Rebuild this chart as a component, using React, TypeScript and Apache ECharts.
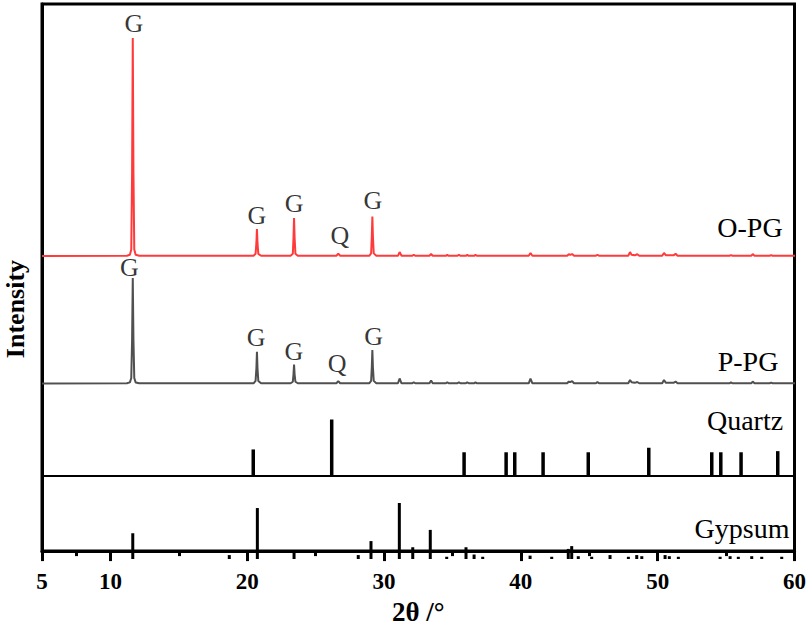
import React, { useEffect, useRef } from "react";
import * as echarts from "echarts";

const X_MIN = 5;
const X_MAX = 60;
const xLabelValues = [5, 10, 20, 30, 40, 50, 60];
const xMajorTicks = [5, 10, 20, 30, 40, 50, 60];
const xMinorTicks = [7.5, 15, 25, 35, 45, 55];

// O-PG pattern: [2θ, intensity a.u.]
const opgPattern: [number, number][] = [
  [5, 0], [11.2, 1], [11.42, 6], [11.52, 30], [11.58, 380], [11.63, 1000], [11.68, 380], [11.74, 30], [11.84, 6], [12.1, 1],
  [20.45, 1], [20.6, 10], [20.66, 60], [20.7, 124], [20.74, 60], [20.8, 10], [21.0, 1],
  [23.16, 1], [23.32, 10], [23.37, 85], [23.41, 174], [23.45, 85], [23.51, 10], [23.68, 1],
  [26.5, 1], [26.64, 11], [26.78, 1],
  [28.9, 1], [29.04, 12], [29.09, 90], [29.13, 181], [29.17, 90], [29.23, 12], [29.42, 1],
  [31.0, 1], [31.12, 18], [31.26, 1],
  [32.05, 1], [32.15, 6], [32.26, 1],
  [33.3, 1], [33.42, 9], [33.54, 1],
  [34.5, 1], [34.6, 5], [34.7, 1],
  [35.35, 1], [35.45, 6], [35.55, 1],
  [35.96, 1], [36.06, 5], [36.16, 1],
  [36.56, 1], [36.66, 5], [36.78, 1],
  [40.55, 1], [40.68, 14], [40.82, 1],
  [43.36, 1], [43.48, 8], [43.58, 5], [43.72, 9], [43.86, 1],
  [45.46, 1], [45.57, 6], [45.68, 1],
  [47.82, 1], [47.95, 18], [48.06, 6], [48.3, 3], [48.48, 8], [48.62, 1],
  [50.3, 1], [50.43, 14], [50.56, 4], [51.12, 3], [51.28, 10], [51.42, 1],
  [55.22, 1], [55.32, 4], [55.44, 1],
  [56.8, 1], [56.91, 9], [57.04, 1],
  [58.15, 1], [58.25, 4], [58.36, 1],
  [60, 1],
];

// P-PG pattern: [2θ, intensity a.u.]
const ppgPattern: [number, number][] = [
  [5, 0], [11.2, 1], [11.42, 5], [11.52, 25], [11.58, 200], [11.63, 484], [11.68, 200], [11.74, 25], [11.84, 5], [12.1, 1],
  [20.45, 1], [20.6, 12], [20.66, 70], [20.7, 145], [20.74, 70], [20.8, 12], [21.0, 1],
  [23.16, 1], [23.32, 8], [23.37, 42], [23.41, 87], [23.45, 42], [23.51, 8], [23.68, 1],
  [26.5, 1], [26.64, 11], [26.78, 1],
  [28.9, 1], [29.04, 12], [29.09, 75], [29.13, 153], [29.17, 75], [29.23, 12], [29.42, 1],
  [31.0, 1], [31.12, 23], [31.26, 1],
  [32.05, 1], [32.15, 6], [32.26, 1],
  [33.3, 1], [33.42, 14], [33.54, 1],
  [34.5, 1], [34.6, 6], [34.7, 1],
  [35.35, 1], [35.45, 6], [35.55, 1],
  [35.96, 1], [36.06, 6], [36.16, 1],
  [36.56, 1], [36.66, 5], [36.78, 1],
  [40.55, 1], [40.68, 22], [40.82, 1],
  [43.36, 1], [43.48, 9], [43.58, 6], [43.72, 11], [43.86, 1],
  [45.46, 1], [45.57, 7], [45.68, 1],
  [47.82, 1], [47.95, 16], [48.06, 6], [48.3, 3], [48.48, 7], [48.62, 1],
  [50.3, 1], [50.43, 16], [50.56, 4], [51.12, 3], [51.28, 9], [51.42, 1],
  [55.22, 1], [55.32, 5], [55.44, 1],
  [56.8, 1], [56.91, 9], [57.04, 1],
  [58.15, 1], [58.25, 4], [58.36, 1],
  [60, 1],
];

// Peak annotations: [2θ, label level, text]
const opgLabels: [number, number, string][] = [
  [11.72, 1005, "G"], [20.7, 124, "G"], [23.41, 183, "G"], [26.75, 32, "Q"], [29.16, 193, "G"],
];
const ppgLabels: [number, number, string][] = [
  [11.38, 470, "G"], [20.64, 150, "G"], [23.39, 89, "G"], [26.55, 30, "Q"], [29.22, 158, "G"],
];

// Standard reference patterns (relative intensity)
const quartzPeaks: [number, number][] = [
  [20.43, 47], [26.16, 100], [35.83, 42], [38.9, 42], [39.53, 42], [41.6, 42],
  [44.9, 42], [49.32, 50], [53.92, 42], [54.58, 42], [56.06, 42], [58.74, 44],
];
const gypsumPeaks: [number, number][] = [
  [11.63, 46], [18.68, 7], [20.73, 91], [23.41, 11], [28.1, 7], [29.03, 32], [31.1, 100],
  [32.08, 21], [33.36, 52], [34.56, 4], [35.97, 21], [36.56, 8], [37.19, 4], [40.65, 6],
  [42.23, 4], [43.44, 18], [43.69, 23], [44.17, 5], [45.15, 4], [46.49, 7], [47.83, 4],
  [48.44, 7], [48.81, 5], [50.51, 7], [50.82, 5], [51.48, 4], [54.53, 4], [55.26, 5],
  [55.86, 4], [56.84, 5], [57.57, 4], [59.03, 4],
];

const seriesNames = ["O-PG", "P-PG", "Quartz", "Gypsum"];
const xAxisTitle = "2θ /°";
const yAxisTitle = "Intensity";

const FONT = "'Liberation Serif', 'Times New Roman', serif";

export default function App() {
  const ref = useRef<HTMLDivElement>(null);

  useEffect(() => {
    if (!ref.current) return;
    const chart = echarts.init(ref.current, null, { renderer: "svg" });
    const L = 42;
    const R = 14;
    const H = 630;
    const PATTERN_MAX = 1100;
    const PATTERN_H = 218 * (PATTERN_MAX / 1000);
    const hiddenX = (gridIndex: number, showLine = false) => ({
      type: "value",
      gridIndex,
      min: X_MIN,
      max: X_MAX,
      axisLine: { show: showLine, lineStyle: { color: "#000", width: 2 } },
      axisTick: { show: false },
      axisLabel: { show: false },
      splitLine: { show: false },
    });
    const hiddenY = (gridIndex: number, max: number) => ({
      type: "value",
      gridIndex,
      min: 0,
      max,
      show: false,
      splitLine: { show: false },
    });
    const labelSeries = (xIdx: number, yIdx: number, data: [number, number, string][]) => ({
      type: "scatter",
      xAxisIndex: xIdx,
      yAxisIndex: yIdx,
      symbolSize: 0.1,
      silent: true,
      clip: false,
      itemStyle: { color: "transparent" },
      data,
      label: {
        show: true,
        position: "top",
        distance: 0,
        formatter: (p: any) => p.value[2],
        color: "#000",
        fontSize: 26,
        fontFamily: FONT,
      },
      z: 5,
    });
    const textEl = (text: string, x: number, y: number, extra: any = {}) => ({
      type: "text",
      x,
      y,
      ...extra,
      style: {
        text,
        fill: "#000",
        fontSize: 28,
        fontFamily: FONT,
        textAlign: "center",
        textVerticalAlign: "middle",
        align: "center",
        verticalAlign: "middle",
        ...(extra.style || {}),
      },
    });

    chart.setOption({
      animation: false,
      backgroundColor: "#fff",
      textStyle: { fontFamily: FONT },
      grid: [
        { left: L, right: R, top: 4, bottom: H - 559, show: true, borderColor: "#000", borderWidth: 3, backgroundColor: "transparent" },
        { left: L, right: R, top: 256 - PATTERN_H, bottom: H - 256 },
        { left: L, right: R, top: 383.5 - PATTERN_H, bottom: H - 383.5 },
        { left: L, right: R, top: 419.5, bottom: H - 476 },
        { left: L, right: R, top: 503, bottom: H - 559 },
      ],
      xAxis: [
        {
          type: "value",
          gridIndex: 0,
          position: "bottom",
          min: X_MIN,
          max: X_MAX,
          name: xAxisTitle,
          nameLocation: "middle",
          nameGap: 46,
          nameTextStyle: { fontSize: 27, fontWeight: "bold", color: "#000", fontFamily: FONT },
          axisLine: { show: true, lineStyle: { color: "#000", width: 3 } },
          axisTick: { show: true, customValues: xMajorTicks, length: 10, lineStyle: { color: "#000", width: 3 } },
          axisLabel: {
            show: true,
            customValues: xLabelValues,
            margin: 19,
            fontSize: 23,
            fontWeight: "bold",
            color: "#000",
            fontFamily: FONT,
          },
          splitLine: { show: false },
        },
        {
          type: "value",
          gridIndex: 0,
          position: "bottom",
          offset: 0,
          min: X_MIN,
          max: X_MAX,
          axisLine: { show: false },
          axisTick: { show: true, customValues: xMinorTicks, length: 5, lineStyle: { color: "#000", width: 3 } },
          axisLabel: { show: false },
          splitLine: { show: false },
        },
        hiddenX(1),
        hiddenX(2),
        hiddenX(3, true),
        hiddenX(4),
      ],
      yAxis: [
        {
          type: "value",
          gridIndex: 0,
          min: 0,
          max: 1,
          axisLine: { show: true, lineStyle: { color: "#000", width: 3 } },
          axisTick: { show: false },
          axisLabel: { show: false },
          splitLine: { show: false },
        },
        hiddenY(1, PATTERN_MAX),
        hiddenY(2, PATTERN_MAX),
        hiddenY(3, 100),
        hiddenY(4, 100),
      ],
      series: [
        {
          name: seriesNames[0],
          type: "line",
          xAxisIndex: 2,
          yAxisIndex: 1,
          data: opgPattern,
          showSymbol: false,
          symbol: "none",
          clip: false,
          lineStyle: { color: "#ff3a3a", width: 2 },
          z: 3,
        },
        {
          name: seriesNames[1],
          type: "line",
          xAxisIndex: 3,
          yAxisIndex: 2,
          data: ppgPattern,
          showSymbol: false,
          symbol: "none",
          clip: false,
          lineStyle: { color: "#505050", width: 2 },
          z: 3,
        },
        {
          name: seriesNames[2],
          type: "bar",
          xAxisIndex: 4,
          yAxisIndex: 3,
          data: quartzPeaks,
          barWidth: 3.5,
          itemStyle: { color: "#000" },
        },
        {
          name: seriesNames[3],
          type: "bar",
          xAxisIndex: 5,
          yAxisIndex: 4,
          data: gypsumPeaks,
          barWidth: 3,
          itemStyle: { color: "#000" },
        },
        labelSeries(2, 1, opgLabels),
        labelSeries(3, 2, ppgLabels),
      ],
      graphic: [
        textEl(yAxisTitle, 15, 309, { rotation: Math.PI / 2, style: { fontWeight: "bold", fontSize: 26 } }),
        textEl(seriesNames[0], 750, 227),
        textEl(seriesNames[1], 748, 361),
        textEl(seriesNames[2], 745, 420),
        textEl(seriesNames[3], 742, 528),
      ],
    });
    return () => chart.dispose();
  }, []);

  return (
    <div
      ref={ref}
      style={{ position: "fixed", left: 0, top: 0, width: 809, height: 630, background: "#fff" }}
    />
  );
}
